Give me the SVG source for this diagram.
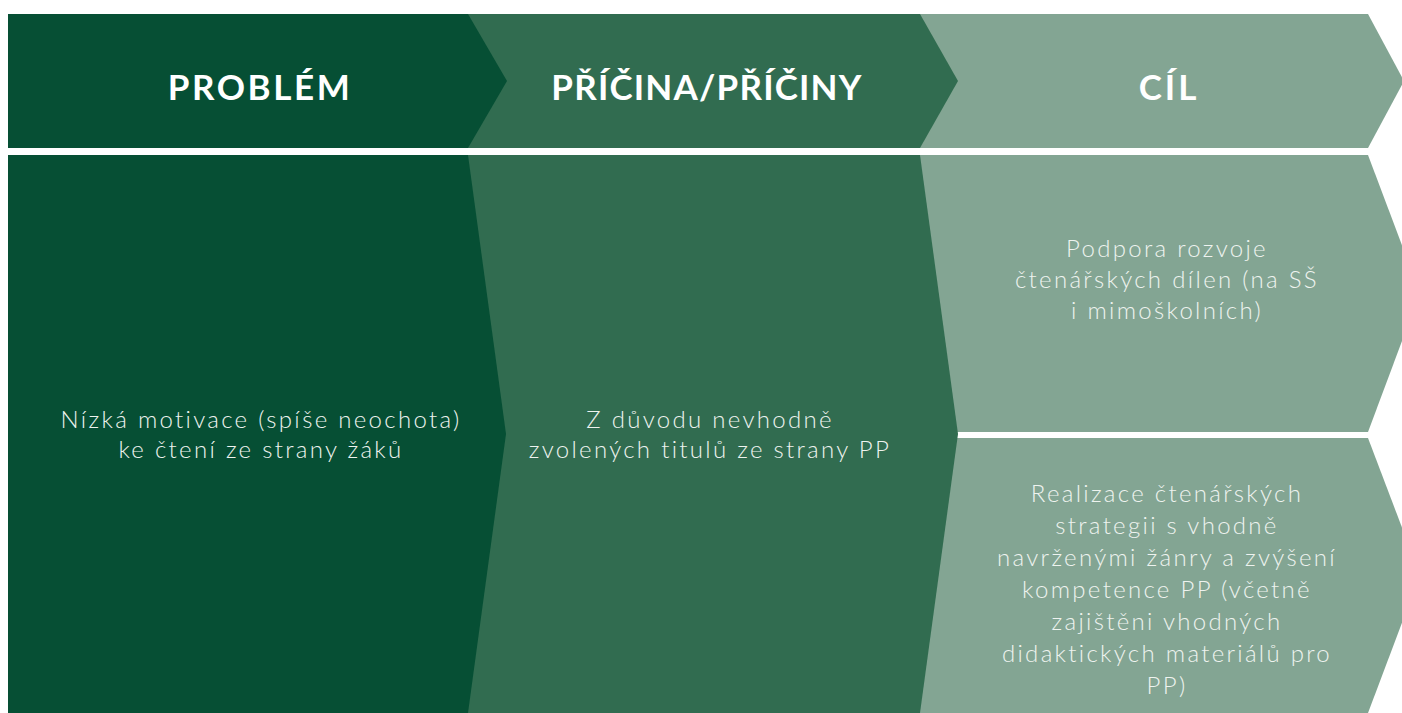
<svg xmlns="http://www.w3.org/2000/svg" width="1402" height="713" viewBox="0 0 1402 713">
<style>
.dark{fill:#064F34}
.mid{fill:#316C50}
.light{fill:#83A593}
.head{font-family:"Lato","Open Sans","Liberation Sans",sans-serif;font-weight:700;font-size:35px;fill:#FFFFFF;text-anchor:middle}
.body{font-family:"Lato","Open Sans","Liberation Sans",sans-serif;font-weight:300;font-size:24px;letter-spacing:2.3px;fill:#EEF3EF;text-anchor:middle}
</style>
<rect width="1402" height="713" fill="#FFFFFF"/>
<g id="cil-header">
<polygon class="light" points="900,14 1368,14 1404,81 1368,148 900,148"/>
<text class="head" x="1169" y="100" letter-spacing="3">CÍL</text>
</g>
<g id="pricina-header">
<polygon class="mid" points="460,14 920,14 958,81 920,148 460,148"/>
<text class="head" x="707" y="100" letter-spacing="1.2">PŘÍČINA/PŘÍČINY</text>
</g>
<g id="problem-header">
<polygon class="dark" points="8,14 468,14 507,81 468,148 8,148"/>
<text class="head" x="260" y="100" letter-spacing="2.6">PROBLÉM</text>
</g>
<g id="cil-1">
<polygon class="light" points="900,155 1368,155 1420,293 1368,432 900,432"/>
<text class="body" x="1167" y="257">Podpora rozvoje</text>
<text class="body" x="1167" y="288">čtenářských dílen (na SŠ</text>
<text class="body" x="1167" y="319">i mimoškolních)</text>
</g>
<g id="cil-2">
<polygon class="light" points="900,438 1368,438 1420,575 1368,713 900,713"/>
<text class="body" x="1167" y="502">Realizace čtenářských</text>
<text class="body" x="1167" y="534">strategii s vhodně</text>
<text class="body" x="1167" y="566">navrženými žánry a zvýšení</text>
<text class="body" x="1167" y="598">kompetence PP (včetně</text>
<text class="body" x="1167" y="630">zajištěni vhodných</text>
<text class="body" x="1167" y="662">didaktických materiálů pro</text>
<text class="body" x="1167" y="694">PP)</text>
</g>
<g id="pricina-body">
<polygon class="mid" points="460,155 920,155 958,434 920,713 460,713"/>
<text class="body" x="710" y="428">Z důvodu nevhodně</text>
<text class="body" x="710" y="458">zvolených titulů ze strany PP</text>
</g>
<g id="problem-body">
<polygon class="dark" points="8,155 468,155 506,434 468,713 8,713"/>
<text class="body" x="261" y="428">Nízká motivace (spíše neochota)</text>
<text class="body" x="261" y="458">ke čtení ze strany žáků</text>
</g>
</svg>
